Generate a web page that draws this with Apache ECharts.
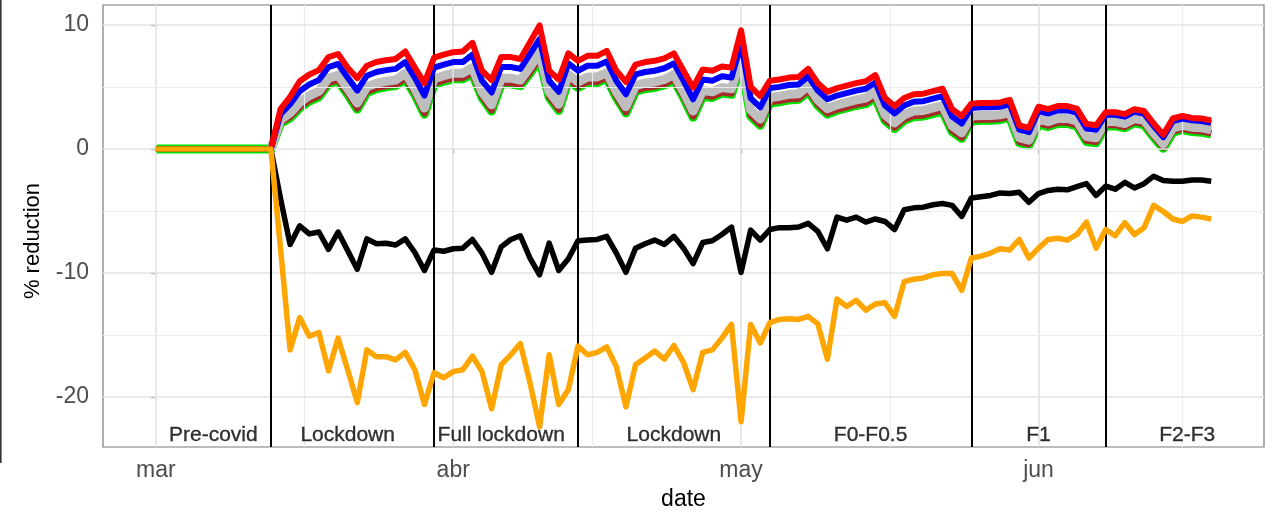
<!DOCTYPE html>
<html>
<head>
<meta charset="utf-8">
<script src="https://cdn.jsdelivr.net/npm/echarts@6/dist/echarts.min.js"></script>
<style>
html,body{margin:0;padding:0;background:#fff;}
#chart{width:1274px;height:516px;}
</style>
</head>
<body>
<div id="chart"></div>
<script>
// Day offsets are counted from 1 March (index of each array = day offset).
const monthTickDays = [0, 31, 61, 92];
const monthTickLabels = ['mar', 'abr', 'may', 'jun'];
const minorGridDays = [15.5, 45.5, 76.5, 107];
const yTickValues = [-20, -10, 0, 10];
const yMinorValues = [-15, -5, 5];
const phaseBreakDays = [12, 29, 44, 64, 85, 99];
const phaseLabelDays = [6, 20, 36, 54, 74.5, 92, 107.5];
const phaseLabels = ['Pre-covid', 'Lockdown', 'Full lockdown', 'Lockdown', 'F0-F0.5', 'F1', 'F2-F3'];
const phaseLabelValue = -23.05;
const xTitle = 'date';
const yTitle = '% reduction';

const N = null;
const redSeries = [N,N,N,N,N,N,N,N,N,N,N,N,
 0,3.2,4.2,5.45,6.0,6.35,7.4,7.65,6.55,5.7,6.7,7.0,7.15,7.25,7.85,6.55,5.3,7.35,7.6,7.8,7.85,8.55,6.3,5.55,
 7.4,7.4,7.25,8.6,9.95,6.3,5.6,7.7,7.1,7.5,7.5,7.9,6.3,5.4,6.8,7.0,7.1,7.3,7.7,6.3,4.95,6.4,6.3,6.65,6.55,9.55,5.0,4.25,
 5.5,5.6,5.75,5.8,6.45,5.3,4.6,4.9,5.1,5.3,5.45,5.95,4.1,3.45,4.1,4.4,4.45,4.65,4.85,3.2,2.65,
 3.65,3.7,3.7,3.75,3.95,1.9,1.7,3.4,3.2,3.45,3.45,3.25,2.0,1.9,
 2.95,2.95,2.8,3.2,3.05,2.05,1.15,2.45,2.65,2.5,2.45,2.3];
const blueSeries = [N,N,N,N,N,N,N,N,N,N,N,N,
 0,2.8,3.6,4.65,5.2,5.55,6.6,6.85,5.75,4.7,5.9,6.2,6.35,6.45,7.0,5.75,4.3,6.55,6.8,7.0,7.0,7.6,5.5,4.55,
 6.6,6.6,6.45,7.65,8.85,5.5,4.6,6.9,6.3,6.7,6.7,7.05,5.5,4.4,6.0,6.2,6.3,6.5,6.9,5.5,4.0,5.6,5.5,5.85,5.75,8.5,4.1,3.35,
 4.9,5.0,5.15,5.2,5.85,4.7,4.0,4.3,4.5,4.7,4.85,5.35,3.5,2.85,3.5,3.8,3.85,4.05,4.25,2.6,2.05,
 3.3,3.35,3.35,3.4,3.6,1.55,1.35,3.05,2.85,3.1,3.1,2.9,1.65,1.55,
 2.75,2.75,2.6,3.0,2.85,1.85,0.95,2.25,2.45,2.3,2.25,2.1];
const greySeries = [N,N,N,N,N,N,N,N,N,N,N,N,
 0,2.35,2.9,3.75,4.3,4.65,5.7,5.95,4.85,3.7,5.0,5.3,5.45,5.55,6.1,4.85,3.3,5.65,5.9,6.1,6.1,6.55,4.6,3.55,
 5.7,5.7,5.55,6.6,7.75,4.6,3.6,6.0,5.4,5.8,5.8,6.15,4.6,3.4,5.1,5.3,5.4,5.6,6.0,4.6,3.05,4.7,4.6,4.95,4.85,7.4,3.15,2.4,
 4.15,4.25,4.4,4.45,5.1,3.95,3.25,3.55,3.75,3.95,4.1,4.6,2.75,2.1,2.75,3.05,3.1,3.3,3.5,1.85,1.3,
 2.65,2.7,2.7,2.75,2.95,0.9,0.7,2.4,2.2,2.45,2.45,2.25,1.0,0.9,
 2.2,2.2,2.05,2.45,2.3,1.3,0.4,1.7,1.9,1.75,1.7,1.55];
const brownSeries = [N,N,N,N,N,N,N,N,N,N,N,N,
 0,2.1,2.55,3.35,3.9,4.25,5.3,5.55,4.45,3.25,4.6,4.9,5.05,5.15,5.7,4.45,2.85,5.25,5.5,5.7,5.7,6.1,4.2,3.1,
 5.3,5.3,5.15,6.15,7.3,4.2,3.15,5.6,5.0,5.4,5.4,5.75,4.2,2.95,4.7,4.9,5.0,5.2,5.6,4.2,2.6,4.3,4.2,4.55,4.45,6.95,2.7,1.95,
 3.75,3.85,4.0,4.05,4.7,3.55,2.85,3.15,3.35,3.55,3.7,4.2,2.35,1.7,2.35,2.65,2.7,2.9,3.1,1.45,0.9,
 2.3,2.35,2.35,2.4,2.6,0.55,0.35,2.05,1.85,2.1,2.1,1.9,0.65,0.55,
 1.9,1.9,1.75,2.15,2.0,1.0,0.1,1.4,1.6,1.45,1.4,1.25];
const greenSeries = [0,0,0,0,0,0,0,0,0,0,0,0,
 0,2.05,2.5,3.3,3.85,4.2,5.25,5.5,4.4,3.2,4.55,4.85,5.0,5.1,5.65,4.4,2.8,5.2,5.45,5.65,5.65,6.05,4.15,3.05,
 5.25,5.25,5.1,6.1,7.25,4.15,3.1,5.55,4.95,5.35,5.35,5.7,4.15,2.9,4.65,4.85,4.95,5.15,5.55,4.15,2.55,4.25,4.15,4.5,4.4,6.9,2.65,1.9,
 3.7,3.8,3.95,4.0,4.65,3.5,2.8,3.1,3.3,3.5,3.65,4.15,2.3,1.65,2.3,2.6,2.65,2.85,3.05,1.4,0.85,
 2.25,2.3,2.3,2.35,2.55,0.5,0.3,2.0,1.8,2.05,2.05,1.85,0.6,0.5,
 1.85,1.85,1.7,2.1,1.95,0.95,0.05,1.35,1.55,1.4,1.35,1.2];
const blackSeries = [0,0,0,0,0,0,0,0,0,0,0,0,
 0,-4.0,-7.7,-6.2,-6.85,-6.7,-8.1,-6.7,-8.2,-9.7,-7.25,-7.65,-7.6,-7.75,-7.25,-8.35,-9.8,-8.15,-8.25,-8.05,-8.0,-7.3,-8.4,-9.95,
 -7.9,-7.3,-7.0,-8.8,-10.15,-7.6,-9.8,-8.85,-7.4,-7.35,-7.3,-7.05,-8.4,-9.95,-8.0,-7.65,-7.35,-7.7,-7.05,-8.0,-9.25,-7.55,-7.4,-6.9,-6.3,-9.95,-6.55,-7.35,
 -6.5,-6.35,-6.35,-6.3,-6.0,-6.65,-8.05,-5.5,-5.75,-5.5,-5.9,-5.65,-5.85,-6.5,-4.9,-4.75,-4.7,-4.5,-4.4,-4.55,-5.45,
 -3.95,-3.85,-3.75,-3.55,-3.6,-3.5,-4.3,-3.6,-3.35,-3.25,-3.3,-3.05,-2.8,-3.75,
 -3.0,-3.25,-2.7,-3.15,-2.8,-2.2,-2.55,-2.6,-2.6,-2.5,-2.5,-2.6];
const orangeSeries = [0,0,0,0,0,0,0,0,0,0,0,0,
 0,-8.0,-16.2,-13.6,-15.1,-14.8,-17.9,-15.25,-17.8,-20.45,-16.2,-16.75,-16.75,-17.0,-16.4,-17.8,-20.6,-18.05,-18.45,-17.95,-17.8,-16.7,-17.95,-20.95,
 -17.4,-16.6,-15.7,-18.85,-22.4,-16.6,-20.6,-19.4,-15.9,-16.6,-16.4,-15.95,-17.55,-20.8,-17.4,-16.85,-16.3,-16.95,-15.85,-17.2,-19.4,-16.4,-16.2,-15.25,-14.15,-22.0,-14.15,-15.65,
 -14.0,-13.75,-13.7,-13.75,-13.5,-14.1,-16.95,-12.1,-12.7,-12.2,-13.0,-12.5,-12.4,-13.5,-10.7,-10.5,-10.4,-10.15,-10.05,-10.05,-11.4,
 -8.8,-8.65,-8.4,-8.05,-8.15,-7.3,-8.8,-8.0,-7.3,-7.2,-7.35,-6.9,-5.9,-8.0,
 -6.5,-7.0,-5.95,-6.9,-6.35,-4.55,-5.05,-5.65,-5.85,-5.4,-5.5,-5.65];

const FONT = 'Liberation Sans, Arial, sans-serif';
function pts(arr){ return arr.map((v,i)=>[i, v]); }
function lineSeries(name, arr, color, width, z){
  return {
    name, type:'line', data: pts(arr), showSymbol:false, symbol:'none', z,
    connectNulls:false, silent:true,
    lineStyle:{color, width, join:'round', cap:'butt'}
  };
}
function gridMark(list, key, color, width){
  return list.map(v=>({[key]:v, lineStyle:{color, width, type:'solid'}}));
}
const gridLineData = []
  .concat(gridMark(monthTickDays, 'xAxis', '#e3e3e3', 1.6))
  .concat(gridMark(minorGridDays, 'xAxis', '#ececec', 1.2))
  .concat(gridMark(yTickValues, 'yAxis', '#e3e3e3', 1.6))
  .concat(gridMark(yMinorValues, 'yAxis', '#ececec', 1.2));

const chart = echarts.init(document.getElementById('chart'), null, {renderer:'canvas'});
chart.setOption({
  animation:false,
  backgroundColor:'#fff',
  graphic:[
    {type:'rect', shape:{x:0, y:0, width:1.6, height:463}, style:{fill:'#333'}, silent:true},
    {type:'text', x:33, y:241, rotation:Math.PI/2, silent:true,
     style:{text:yTitle, fill:'#000', font:'22px ' + FONT, align:'center', verticalAlign:'middle'}}
  ],
  grid:{left:103, right:10, top:5, bottom:69, show:true, borderColor:'#7a7a7a', borderWidth:1.2, backgroundColor:'transparent'},
  xAxis:{
    type:'value', min:-5.5, max:115.5,
    axisLine:{show:false},
    splitLine:{show:false},
    axisTick:{show:true, customValues:monthTickDays, length:5, lineStyle:{color:'#555', width:1.2}},
    axisLabel:{customValues:monthTickDays, margin:12, color:'#4d4d4d', fontSize:23, fontFamily:FONT,
      formatter:(v)=>{const i=monthTickDays.indexOf(v); return i>=0?monthTickLabels[i]:'';}},
    name:xTitle, nameLocation:'middle', nameGap:41,
    nameTextStyle:{color:'#000', fontSize:23, fontFamily:FONT}
  },
  yAxis:{
    type:'value', min:-24.03, max:11.6,
    axisLine:{show:false},
    splitLine:{show:false},
    axisTick:{show:true, customValues:yTickValues, length:5, lineStyle:{color:'#555', width:1.2}},
    axisLabel:{customValues:yTickValues, margin:14, color:'#4d4d4d', fontSize:23, fontFamily:FONT}
  },
  series:[
    {type:'line', data:[], z:1, silent:true,
     markLine:{silent:true, symbol:['none','none'], label:{show:false}, animation:false,
       lineStyle:{color:'#e3e3e3', type:'solid', width:1.5}, data:gridLineData}},
    lineSeries('green', greenSeries, '#00e000', 9, 2),
    lineSeries('brown', brownSeries, '#a52a2a', 6, 3),
    lineSeries('grey', greySeries, '#bebebe', 9, 4),
    lineSeries('blue', blueSeries, '#0000ff', 6, 5),
    lineSeries('red', redSeries, '#ff0000', 6, 6),
    lineSeries('black', blackSeries, '#000000', 5.5, 7),
    {type:'scatter', z:7.5, silent:true, symbol:'circle', symbolSize:0,
     itemStyle:{color:'rgba(0,0,0,0)'},
     data: phaseLabelDays.map((d,i)=>[d, phaseLabelValue, phaseLabels[i]]),
     label:{show:true, position:'inside', color:'#000', fontSize:21, fontFamily:FONT,
       textBorderColor:'#000', textBorderWidth:0.35,
       formatter:(p)=>p.value[2]}},
    lineSeries('orange', orangeSeries, '#ffa500', 5.5, 8),
    {type:'line', data:[], z:9, silent:true,
     markLine:{silent:true, symbol:['none','none'], label:{show:false}, animation:false,
       lineStyle:{color:'#000', width:2, type:'solid'},
       data:phaseBreakDays.map(d=>({xAxis:d}))}}
  ]
});
</script>
</body>
</html>
